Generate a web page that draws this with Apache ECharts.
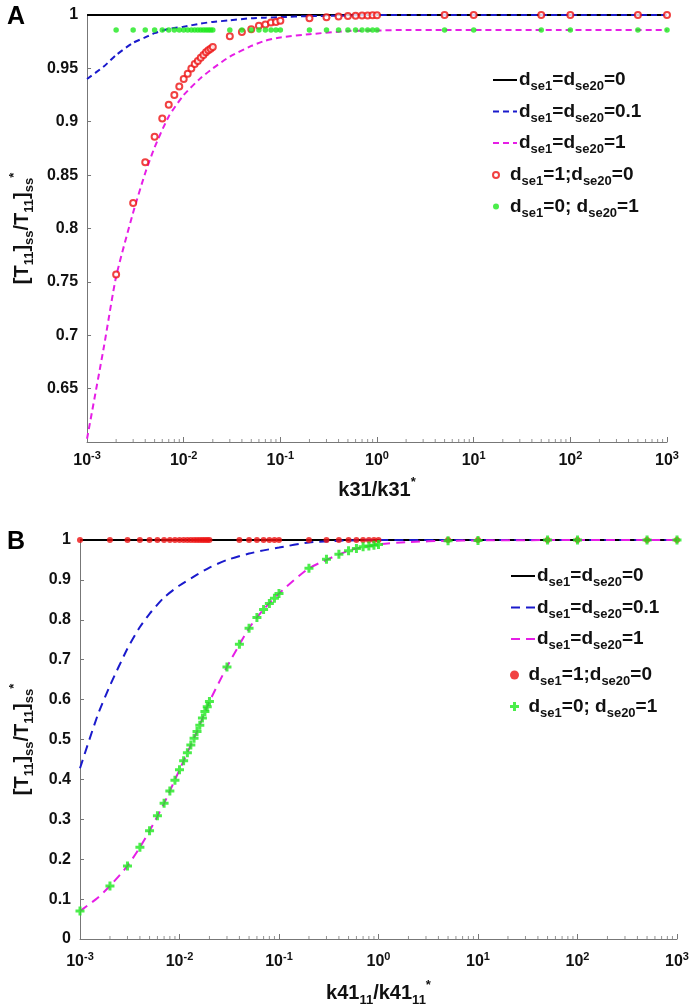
<!DOCTYPE html>
<html>
<head>
<meta charset="utf-8">
<script src="https://cdn.jsdelivr.net/npm/echarts@6/dist/echarts.min.js"></script>
<style>
html, body { margin: 0; padding: 0; background: #fff; }
#main { width: 693px; height: 1008px; }
</style>
</head>
<body>
<div id="main"></div>
<script>
// x positions of the dashed / solid curves
const lineX = [0.001, 0.0015, 0.002, 0.003, 0.004, 0.005, 0.007, 0.01, 0.015, 0.02, 0.03, 0.05, 0.07, 0.1, 0.2, 0.5, 1, 2, 5, 10, 100, 1000]
const blackX = [0.001, 1000]
const blackY = [1, 1]

// panel A curves (k31/k31*)
const blueA = [0.940, 0.952, 0.9625, 0.974, 0.979, 0.983, 0.987, 0.989, 0.992, 0.9935, 0.995, 0.997, 0.9975, 0.998, 0.999, 0.9995, 1, 1, 1, 1, 1, 1]
const magentaA = [0.603, 0.69, 0.755, 0.815, 0.852, 0.876, 0.905, 0.925, 0.941, 0.950, 0.961, 0.971, 0.976, 0.979, 0.982, 0.985, 0.9855, 0.986, 0.986, 0.986, 0.986, 0.986]

// panel B curves (k41_11/k41_11*)
const blueB = [0.428, 0.56, 0.635, 0.728, 0.782, 0.815, 0.856, 0.886, 0.913, 0.931, 0.950, 0.966, 0.974, 0.981, 0.994, 0.999, 1, 1, 1, 1, 1, 1]
const magentaB = [0.070, 0.103, 0.133, 0.183, 0.230, 0.271, 0.340, 0.424, 0.520, 0.595, 0.682, 0.779, 0.826, 0.866, 0.929, 0.973, 0.989, 0.995, 0.998, 0.999, 1, 1]

// marker x positions
const markXA = [0.002, 0.003, 0.004, 0.005, 0.006, 0.007, 0.008, 0.009, 0.01, 0.011, 0.012, 0.013, 0.014, 0.015, 0.016, 0.017, 0.018, 0.019, 0.02,
  0.03, 0.04, 0.05, 0.06, 0.07, 0.08, 0.09, 0.1,
  0.2, 0.3, 0.4, 0.5, 0.6, 0.7, 0.8, 0.9, 1,
  5, 10, 50, 100, 500, 1000]
const redA = [0.757, 0.824, 0.862, 0.886, 0.903, 0.916, 0.925, 0.933, 0.940, 0.945, 0.950, 0.954, 0.957, 0.960, 0.9625, 0.965, 0.967, 0.9685, 0.970,
  0.980, 0.984, 0.9866, 0.990, 0.991, 0.993, 0.9935, 0.9945,
  0.997, 0.998, 0.9985, 0.999, 0.9993, 0.9995, 0.9996, 0.9997, 0.9998,
  1, 1, 1, 1, 1, 1]
const greenA = [0.986, 0.986, 0.986, 0.986, 0.986, 0.986, 0.986, 0.986, 0.986, 0.986, 0.986, 0.986, 0.986, 0.986, 0.986, 0.986, 0.986, 0.986, 0.986,
  0.986, 0.986, 0.986, 0.986, 0.986, 0.986, 0.986, 0.986,
  0.986, 0.986, 0.986, 0.986, 0.986, 0.986, 0.986, 0.986, 0.986,
  0.986, 0.986, 0.986, 0.986, 0.986, 0.986]

const markXB = [0.001, 0.002, 0.003, 0.004, 0.005, 0.006, 0.007, 0.008, 0.009, 0.01, 0.011, 0.012, 0.013, 0.014, 0.015, 0.016, 0.017, 0.018, 0.019, 0.02,
  0.03, 0.04, 0.05, 0.06, 0.07, 0.08, 0.09, 0.1,
  0.2, 0.3, 0.4, 0.5, 0.6, 0.7, 0.8, 0.9, 1,
  5, 10, 50, 100, 500, 1000]
const redB = [1, 1, 1, 1, 1, 1, 1, 1, 1, 1, 1, 1, 1, 1, 1, 1, 1, 1, 1, 1,
  null, 1, 1, 1, 1, 1, 1, 1,
  1, 1, 1, 1, 1, 1, 1, 1, 1,
  1, 1, 1, 1, 1, 1]
const greenB = [0.070, 0.133, 0.183, 0.230, 0.271, 0.309, 0.340, 0.371, 0.398, 0.424, 0.447, 0.467, 0.486, 0.503, 0.520, 0.536, 0.554, 0.570, 0.582, 0.595,
  0.682, 0.739, 0.779, 0.806, 0.826, 0.841, 0.854, 0.866,
  0.929, 0.952, 0.964, 0.973, 0.979, 0.983, 0.985, 0.987, 0.989,
  0.998, 0.999, 1, 1, 1, 1]

const legendLabels = ['d{s|se1}=d{s|se20}=0', 'd{s|se1}=d{s|se20}=0.1', 'd{s|se1}=d{s|se20}=1', 'd{s|se1}=1;d{s|se20}=0', 'd{s|se1}=0; d{s|se20}=1']

const FONT = "'Liberation Sans', Arial, sans-serif"
const AXIS = '#777'

function pairs(xs, ys) {
  let out = []
  for (let i = 0; i < xs.length; i++) {
    if (ys[i] !== null) out.push([xs[i], ys[i]])
  }
  return out
}

// minor tick positions 2..9 in each decade
let minorX = []
for (let e = -3; e < 3; e++) {
  for (let k = 2; k <= 9; k++) minorX.push(k * Math.pow(10, e))
}

const subStyle = { fontSize: 13, fontWeight: 'bold', fontFamily: FONT, verticalAlign: 'bottom', lineHeight: 14 }
const supStyle = { fontSize: 13, fontWeight: 'bold', fontFamily: FONT, verticalAlign: 'top', lineHeight: 14 }

function xAxisOpt(idx, name, margin, gap) {
  return {
    type: 'log', logBase: 10, gridIndex: idx, min: 0.001, max: 1000, splitNumber: 6,
    name: name, nameLocation: 'middle', nameGap: gap,
    nameTextStyle: { fontSize: 20, fontWeight: 'bold', fontFamily: FONT, color: '#111', lineHeight: 28, rich: { s: subStyle, p: supStyle } },
    axisLine: { show: true, onZero: false, lineStyle: { color: AXIS, width: 1 } },
    axisTick: { show: true, inside: true, length: 5, lineStyle: { color: AXIS } },
    splitLine: { show: false },
    axisLabel: {
      margin: margin, color: '#111', fontSize: 16, fontWeight: 'bold', fontFamily: FONT, lineHeight: 22,
      formatter: v => '10{p|' + Math.round(Math.log10(v)) + '}',
      rich: { p: { fontSize: 11, fontWeight: 'bold', fontFamily: FONT, color: '#111', verticalAlign: 'top', lineHeight: 12 } }
    }
  }
}

function yAxisOpt(idx, min, interval, gap, hideBelow) {
  return {
    type: 'value', gridIndex: idx, min: min, max: 1, interval: interval,
    name: '[T{s|11}]{s|ss}/T{s|11}]{s|ss}{p|*}', nameLocation: 'middle', nameRotate: 90, nameGap: gap,
    nameTextStyle: { fontSize: 20, fontWeight: 'bold', fontFamily: FONT, color: '#111', lineHeight: 28, rich: { s: subStyle, p: supStyle } },
    axisLine: { show: true, lineStyle: { color: AXIS, width: 1 } },
    axisTick: { show: true, inside: true, length: 4, lineStyle: { color: AXIS } },
    splitLine: { show: false },
    axisLabel: {
      margin: 9, color: '#111', fontSize: 16, fontWeight: 'bold', fontFamily: FONT,
      formatter: v => (v < hideBelow ? '' : String(+v.toFixed(2)))
    }
  }
}

function legendOpt(names, left, top, itemH, hideSymbol) {
  let lg = {
    orient: 'vertical', left: left, top: top, data: names, itemWidth: 24, itemHeight: itemH, itemGap: 5.5,
    selectedMode: false,
    formatter: name => legendLabels[parseInt(name.slice(1)) - 1],
    textStyle: { fontSize: 19, fontWeight: 'bold', fontFamily: FONT, color: '#111', lineHeight: 26, padding: [0, 0, 0, -3], rich: { s: { fontSize: 13, fontWeight: 'bold', fontFamily: FONT, color: '#111', verticalAlign: 'bottom', lineHeight: 14 } } }
  }
  if (hideSymbol) lg.itemStyle = { opacity: 0 }
  return lg
}

function curves(g, blue, magenta, dash) {
  let ax = g === 'A' ? 0 : 1
  return [
    { name: g + '1', type: 'line', xAxisIndex: ax, yAxisIndex: ax, data: pairs(blackX, blackY), symbol: 'none', clip: false, itemStyle: { color: '#000' }, lineStyle: { color: '#000', width: 2 }, z: 2 },
    { name: g + '2', type: 'line', xAxisIndex: ax, yAxisIndex: ax, data: pairs(lineX, blue), symbol: 'none', smooth: 0.2, clip: false, itemStyle: { color: '#1a1acc' }, lineStyle: { color: '#1a1acc', width: 2, type: dash }, z: 3 },
    { name: g + '3', type: 'line', xAxisIndex: ax, yAxisIndex: ax, data: pairs(lineX, magenta), symbol: 'none', smooth: 0.2, clip: false, itemStyle: { color: '#e61ee6' }, lineStyle: { color: '#e61ee6', width: 2, type: dash }, z: 3 }
  ]
}

let myChart = echarts.init(document.getElementById('main'))
myChart.setOption({
  animation: false,
  backgroundColor: '#fff',
  title: [
    { text: 'A', left: 2, top: 0, textStyle: { fontSize: 25, fontWeight: 'bold', fontFamily: FONT, color: '#000' } },
    { text: 'B', left: 2, top: 525, textStyle: { fontSize: 25, fontWeight: 'bold', fontFamily: FONT, color: '#000' } }
  ],
  grid: [
    { left: 80, top: 15, width: 587, height: 427 },
    { left: 77, top: 540, width: 600, height: 399 }
  ],
  xAxis: [xAxisOpt(0, 'k31/k31{p|*}', 8, 34), xAxisOpt(1, 'k41{s|11}/k41{s|11}{p|*}', 12, 40)],
  yAxis: [yAxisOpt(0, 0.6, 0.05, 46, 0.62), yAxisOpt(1, 0, 0.1, 44, -1)],
  legend: [
    legendOpt(['A1', 'A2', 'A3'], 487, 62, 14, true),
    legendOpt(['A4', 'A5'], 487, 157, 6, false),
    legendOpt(['B1', 'B2', 'B3'], 505, 558, 14, true),
    legendOpt(['B4', 'B5'], 505, 657, 9, false)
  ],
  series: [
    ...curves('A', blueA, magentaA, [6, 4]),
    { name: 'A4', type: 'scatter', xAxisIndex: 0, yAxisIndex: 0, data: pairs(markXA, redA), symbol: 'emptyCircle', symbolSize: 6, clip: false, itemStyle: { color: '#ee1111', borderWidth: 1.5 }, z: 4 },
    { name: 'A5', type: 'scatter', xAxisIndex: 0, yAxisIndex: 0, data: pairs(markXA, greenA), symbol: 'circle', symbolSize: 5.5, clip: false, itemStyle: { color: '#1ee81e' }, z: 4 },
    { type: 'scatter', xAxisIndex: 0, yAxisIndex: 0, data: minorX.map(x => [x, 0.6]), symbol: 'rect', symbolSize: [1, 3], symbolOffset: [0, -1.5], silent: true, clip: false, itemStyle: { color: AXIS }, z: 1 },
    ...curves('B', blueB, magentaB, [9, 6]),
    { name: 'B4', type: 'scatter', xAxisIndex: 1, yAxisIndex: 1, data: pairs(markXB, redB), symbol: 'circle', symbolSize: 6, clip: false, itemStyle: { color: '#ee1111' }, z: 4 },
    { name: 'B5', type: 'scatter', xAxisIndex: 1, yAxisIndex: 1, data: pairs(markXB, greenB), symbol: 'path://M3,0H6V3H9V6H6V9H3V6H0V3H3Z', symbolSize: 9, clip: false, itemStyle: { color: '#1ee81e' }, z: 4 },
    { type: 'scatter', xAxisIndex: 1, yAxisIndex: 1, data: minorX.map(x => [x, 0]), symbol: 'rect', symbolSize: [1, 3], symbolOffset: [0, -1.5], silent: true, clip: false, itemStyle: { color: AXIS }, z: 1 }
  ]
})
</script>
</body>
</html>
